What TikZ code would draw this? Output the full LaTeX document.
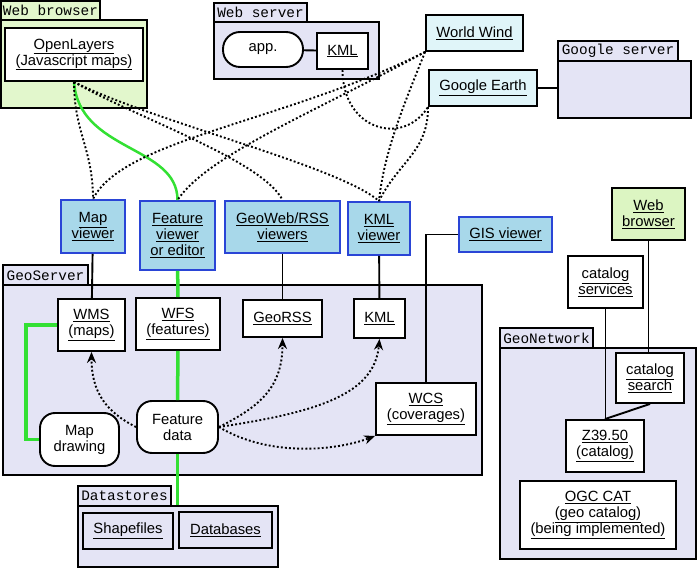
\documentclass[tikz,border=0pt]{standalone}
\usepackage{fontspec}
\setmainfont{Liberation Sans}
\setmonofont{Liberation Mono}
\usetikzlibrary{arrows.meta}
\definecolor{browsergreen}{HTML}{E2F7CC}
\definecolor{browserlime}{HTML}{DCF5C2}
\definecolor{servergrey}{HTML}{E4E4F5}
\definecolor{clientcyan}{HTML}{E0F5F9}
\definecolor{viewerblue}{HTML}{A8D8EA}
\definecolor{viewerline}{HTML}{2A45D6}
\definecolor{featgreen}{HTML}{33E033}
\newcommand{\lnk}[1]{\underline{#1}}
\begin{document}
\begin{tikzpicture}
    [
    x=1pt, y=-1pt,
    every node/.style={inner sep=0pt, align=center, font=\fontsize{14.8}{16}\selectfont},
    boxsize/.style 2 args={minimum width=#1pt, minimum height=#2pt},
    part/.style={rectangle, draw, line width=1.9pt, fill=white},
    engine/.style={rectangle, draw, line width=1.9pt, fill=white, rounded corners=15pt},
    viewer/.style={rectangle, draw=viewerline, line width=1.9pt, fill=viewerblue},
    client/.style={rectangle, draw, line width=1.9pt, fill=clientcyan},
    container/.style={rectangle, draw, line width=1.9pt, fill=servergrey},
    tab/.style={rectangle, draw, line width=1.4pt, fill=servergrey, font=\ttfamily\fontsize{14.4}{16}\selectfont},
    link/.style={line width=1.9pt},
    dots/.style={line width=1.9pt, dash pattern=on 1.9pt off 2.2pt},
    call/.style={dots, -{Stealth[length=11pt, width=9pt]}},
    feed/.style={line width=3.5pt, featgreen}
    ]
    \useasboundingbox (0,0) rectangle (698,569);

    % web browser
    \node (wbTab) at (50.5,10.5) [tab, fill=browsergreen, boxsize={99}{19}] {Web browser};
    \node (wbBody) at (74,64) [container, fill=browsergreen, boxsize={146}{88}] {};
    \node (ol) at (74,54.5) [part, boxsize={138}{53}] {\lnk{OpenLayers}\\\lnk{(Javascript maps)}};

    % web server
    \node (wsTab) at (260.5,12.5) [tab, boxsize={93}{19}] {Web server};
    \node (wsBody) at (296.5,50.5) [container, boxsize={165}{57}] {};
    \node (app) at (263,49.5) [engine, rounded corners=17pt, boxsize={80}{35}] {app.};
    \node (wsKml) at (342.5,51) [part, boxsize={51}{36}] {\lnk{KML}};

    % desktop clients
    \node (wwind) at (474.5,33) [client, boxsize={97}{36}] {\lnk{World Wind}};
    \node (gearth) at (483,88) [client, boxsize={108}{36}] {\lnk{Google Earth}};
    \node (gsTab) at (618,51) [tab, boxsize={120}{20}] {Google server};
    \node (gsBody) at (624.5,89.5) [container, boxsize={133}{57}] {};

    % viewers
    \node (mapv) at (93,226.5) [viewer, boxsize={64}{53}] {\lnk{Map}\\\lnk{viewer}};
    \node (featv) at (177.5,235.5) [viewer, boxsize={75}{69}] {\lnk{Feature}\\\lnk{viewer}\\\lnk{or editor}};
    \node (georssv) at (282.5,227) [viewer, boxsize={115}{52}] {\lnk{GeoWeb/RSS}\\\lnk{viewers}};
    \node (kmlv) at (379,228.5) [viewer, boxsize={62}{53}] {\lnk{KML}\\\lnk{viewer}};
    \node (gisv) at (505.5,234.5) [viewer, boxsize={93}{35}] {\lnk{GIS viewer}};

    % geoserver
    \node (gsvTab) at (45.5,275.5) [tab, boxsize={85}{21}] {GeoServer};
    \node (gsvBody) at (242.5,380) [container, boxsize={479}{190}] {};
    \node (wms) at (91.5,325) [part, boxsize={67}{52}] {\lnk{WMS}\\\lnk{(maps)}};
    \node (wfs) at (178,324) [part, boxsize={84}{52}] {\lnk{WFS}\\\lnk{(features)}};
    \node (georss) at (282.5,318.5) [part, boxsize={79}{37}] {\lnk{GeoRSS}};
    \node (kml) at (379.5,318.5) [part, boxsize={51}{39}] {\lnk{KML}};
    \node (wcs) at (426,409) [part, boxsize={100}{52}] {\lnk{WCS}\\\lnk{(coverages)}};
    \node (mapd) at (79.5,439.5) [engine, boxsize={79}{53}] {Map\\drawing};
    \node (featd) at (177.5,427) [engine, boxsize={81}{52}] {Feature\\data};

    % datastores
    \node (dsTab) at (124.5,496) [tab, boxsize={93}{20}] {Datastores};
    \node (dsBody) at (178,536.5) [container, boxsize={200}{61}] {};
    \node (shp) at (128,531) [container, boxsize={90}{36}] {\lnk{Shapefiles}};
    \node (db) at (225.5,530) [container, boxsize={93}{36}] {\lnk{Databases}};

    % geonetwork
    \node (webb) at (648.5,214) [part, fill=browserlime, boxsize={73}{52}] {\lnk{Web}\\\lnk{browser}};
    \node (catserv) at (605.5,282) [part, boxsize={75}{52}] {\lnk{catalog}\\\lnk{services}};
    \node (gnTab) at (546.5,338) [tab, boxsize={93}{20}] {GeoNetwork};
    \node (gnBody) at (598,453.5) [container, boxsize={196}{211}] {};
    \node (catsearch) at (650,378) [part, boxsize={68}{50}] {\lnk{catalog}\\\lnk{search}};
    \node (z3950) at (605,446) [part, boxsize={78}{52}] {\lnk{Z39.50}\\\lnk{(catalog)}};
    \node (ogc) at (598,515) [part, boxsize={156}{68}] {\lnk{OGC CAT}\\\lnk{(geo catalog)}\\\lnk{(being implemented)}};

    % solid links
    \draw [link] (app) to (wsKml);
    \draw [link] (gearth.east) to (gearth.east -| gsBody.west);
    \draw [link] (mapv) to (wms);
    \draw [link] (georssv) to (georss);
    \draw [link] (kmlv) to (kml);
    \draw [link] (gisv.west) -| (wcs.north);
    \draw [link] (webb.south) to (webb.south |- catsearch.north);
    \draw [link] (catserv.south) to (catserv.south |- z3950.north);
    \draw [link] (catsearch.south) to (z3950.north);

    % feature data path
    \draw [feed] (featv) to (wfs);
    \draw [feed] (wfs) to (featd);
    \draw [feed] (featd.south) to (featd.south |- dsBody.north);
    \draw [feed] (wms.west) -- ++(-31,0) |- (mapd.west);
    \draw [featgreen, line width=2.5pt] (ol.south) .. controls +(5,70) and +(0,-55) .. (featv.north);

    % web requests
    \draw [dots] (ol.south) .. controls +(0,50) and +(0,-50) .. (mapv.north);
    \draw [dots] (ol.south) .. controls +(60,35) and +(-20,-40) .. (georssv.north);
    \draw [dots] (ol.south) .. controls +(80,40) and +(-40,-35) .. (kmlv.north);
    \draw [dots] (wwind.south west) .. controls +(-140,70) and +(30,-60) .. (mapv.north);
    \draw [dots] (wwind.south west) .. controls +(-110,60) and +(30,-45) .. (featv.north);
    \draw [dots] (wwind.south west) .. controls +(-20,50) and +(5,-50) .. (kmlv.north);
    \draw [dots] (gearth.south west) .. controls +(0,45) and +(20,-40) .. (kmlv.north);
    \draw [dots] (wsKml.south) .. controls +(0,60) and +(-25,40) .. (gearth.south west);

    % feature data outputs
    \draw [call] (featd.west) .. controls +(-30,-15) and +(0,40) .. (wms.south);
    \draw [call] (featd.east) .. controls +(40,-20) and +(0,50) .. (georss.south);
    \draw [call] (featd.east) .. controls +(100,-15) and +(-5,55) .. (kml.south);
    \draw [call] (featd.east) .. controls +(50,30) and +(-40,15) .. (wcs.south west);
  \end{tikzpicture}
\end{document}
